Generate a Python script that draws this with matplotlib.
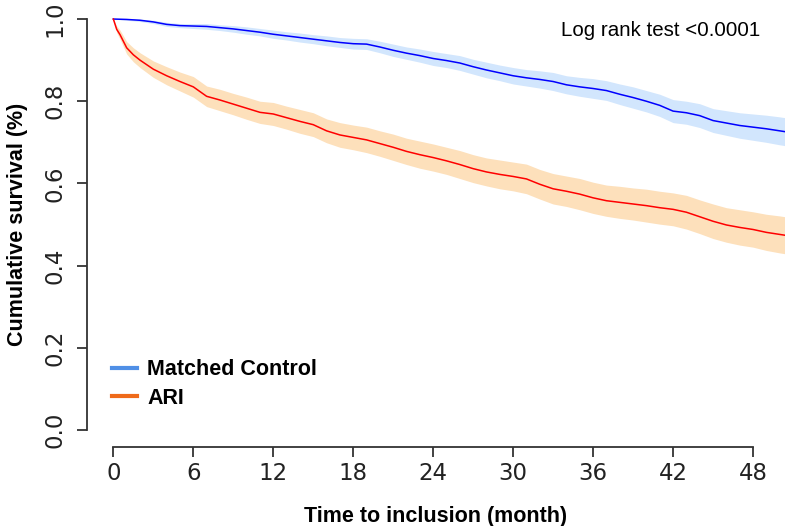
import matplotlib; matplotlib.use("Agg"); import matplotlib.pyplot as plt
from matplotlib.lines import Line2D
import numpy as np

# KM curves (months, survival, CI half-width)
t_ctrl = [0, 1, 2, 3, 4, 5, 6, 7, 8, 9, 10, 11, 12, 13, 14, 15, 16, 17, 18, 19, 20, 21, 22, 23, 24, 25,
          26, 27, 28, 29, 30, 31, 32, 33, 34, 35, 36, 37, 38, 39, 40, 41, 42, 43, 44, 45, 46, 47, 48, 49, 50, 50.4]
s_ctrl = [1.000, 0.999, 0.997, 0.993, 0.987, 0.984, 0.983, 0.982, 0.979, 0.976, 0.972, 0.968, 0.963, 0.959,
          0.955, 0.951, 0.947, 0.943, 0.940, 0.939, 0.932, 0.924, 0.917, 0.911, 0.904, 0.899, 0.893, 0.884,
          0.876, 0.869, 0.862, 0.857, 0.853, 0.848, 0.840, 0.835, 0.831, 0.826, 0.817, 0.809, 0.800, 0.790,
          0.776, 0.772, 0.765, 0.753, 0.747, 0.741, 0.737, 0.733, 0.728, 0.726]
ci_ctrl = [0.000, 0.002, 0.003, 0.004, 0.005, 0.005, 0.006, 0.007, 0.007, 0.008, 0.009, 0.009, 0.010, 0.010,
           0.011, 0.011, 0.012, 0.012, 0.013, 0.013, 0.014, 0.015, 0.015, 0.016, 0.017, 0.017, 0.018, 0.018,
           0.019, 0.019, 0.020, 0.020, 0.021, 0.022, 0.022, 0.023, 0.024, 0.024, 0.025, 0.026, 0.026, 0.027,
           0.028, 0.028, 0.029, 0.029, 0.030, 0.031, 0.032, 0.033, 0.034, 0.034]

t_ari = [0, 0.25, 0.5, 1, 1.5, 2, 3, 4, 5, 6, 7, 8, 9, 10, 11, 12, 13, 14, 15, 16, 17, 18, 19, 20, 21, 22,
         23, 24, 25, 26, 27, 28, 29, 30, 31, 32, 33, 34, 35, 36, 37, 38, 39, 40, 41, 42, 43, 44, 45, 46, 47,
         48, 49, 50, 50.4]
s_ari = [1.000, 0.975, 0.962, 0.930, 0.913, 0.900, 0.878, 0.862, 0.848, 0.835, 0.812, 0.803, 0.793, 0.783,
         0.773, 0.769, 0.760, 0.751, 0.743, 0.728, 0.718, 0.712, 0.706, 0.697, 0.688, 0.678, 0.670, 0.663,
         0.655, 0.646, 0.636, 0.628, 0.622, 0.617, 0.611, 0.598, 0.587, 0.581, 0.574, 0.565, 0.558, 0.554,
         0.550, 0.546, 0.541, 0.537, 0.530, 0.519, 0.508, 0.499, 0.493, 0.488, 0.481, 0.476, 0.474]
ci_ari = [0.000, 0.008, 0.011, 0.015, 0.017, 0.018, 0.020, 0.022, 0.023, 0.025, 0.025, 0.026, 0.026, 0.027,
          0.027, 0.028, 0.028, 0.029, 0.029, 0.029, 0.030, 0.030, 0.031, 0.031, 0.032, 0.032, 0.033, 0.033,
          0.033, 0.034, 0.034, 0.034, 0.035, 0.035, 0.036, 0.036, 0.037, 0.037, 0.038, 0.038, 0.038, 0.039,
          0.039, 0.040, 0.040, 0.040, 0.041, 0.041, 0.042, 0.042, 0.043, 0.043, 0.044, 0.045, 0.045]

x_ticks = [0, 6, 12, 18, 24, 30, 36, 42, 48]
y_ticks = [0.0, 0.2, 0.4, 0.6, 0.8, 1.0]
labels = ["Matched Control", "ARI"]
pval = "Log rank test <0.0001"

HEL = "Liberation Sans"; AX = "#333333"
W, H = 785, 526
fig = plt.figure(figsize=(W/100, H/100), dpi=100)
ax = fig.add_axes([86.7/W, (H-446.5)/H, (W-86.7)/W, (446.5-2.6)/H])
ax.set_xlim(-2, 50.4); ax.set_ylim(-0.04, 1.04)

for t, s, ci, line_c, band_c in [(t_ctrl, s_ctrl, ci_ctrl, "#0000ff", "#d2e6fd"),
                                  (t_ari, s_ari, ci_ari, "#ff0000", "#fde0bb")]:
    s, ci = np.array(s), np.array(ci)
    ax.fill_between(t, s - ci, s + ci, color=band_c, lw=0)
    ax.plot(t, s, color=line_c, lw=1.1)

for side in ["top", "right"]: ax.spines[side].set_visible(False)
ax.spines["left"].set_bounds(0, 1); ax.spines["bottom"].set_bounds(0, 48)
for side in ["left", "bottom"]: ax.spines[side].set_color(AX); ax.spines[side].set_linewidth(1.3)
ax.set_xticks(x_ticks); ax.set_yticks(y_ticks)
ax.set_yticklabels([f"{v:.1f}" for v in y_ticks], rotation=90, va="center")
ax.tick_params(colors=AX, length=7.5, width=1.3, labelsize=16.5, labelcolor="#222222")
ax.tick_params(axis="x", pad=4); ax.tick_params(axis="y", pad=7)

ax.set_xlabel("Time to inclusion (month)", fontsize=15.5, fontweight="bold", family=HEL, labelpad=15)
ax.set_ylabel("Cumulative survival (%)", fontsize=15.5, fontweight="bold", family=HEL, labelpad=11)
fig.text(760/W, 1 - 30/H, pval, ha="right", va="center", fontsize=14.8, family=HEL)

handles = [Line2D([], [], color=c, lw=3) for c in ["#4f8fe6", "#ef6a1a"]]
ax.legend(handles, labels, loc="lower left", bbox_to_anchor=(0.036, 0.085), frameon=False,
          prop={"family": HEL, "weight": "bold", "size": 15.5}, handlelength=1.15, handletextpad=0.5,
          labelspacing=0.35, borderpad=0, borderaxespad=0)

fig.savefig("out.png", dpi=100)
